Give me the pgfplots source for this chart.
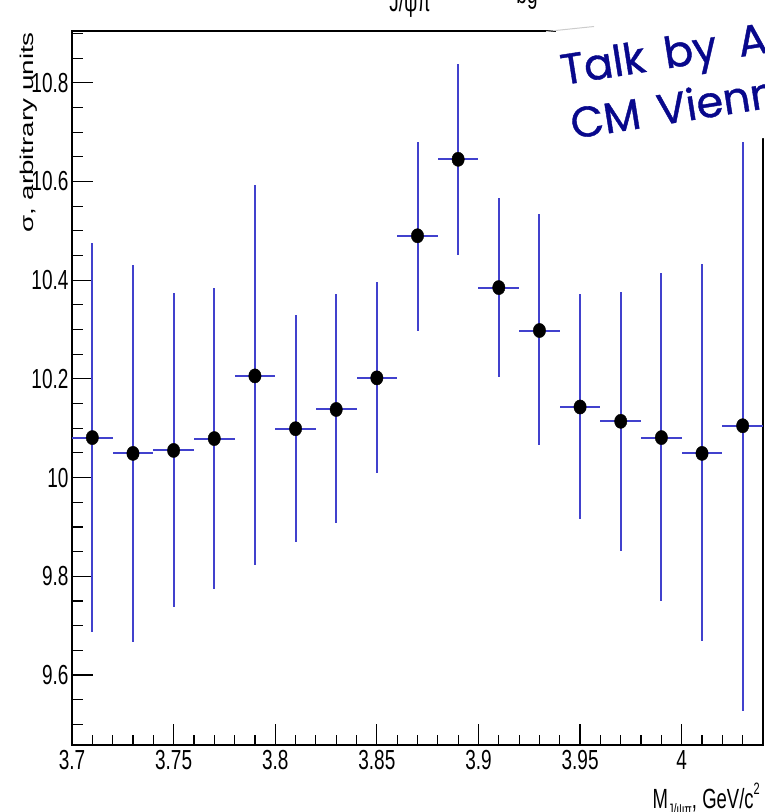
\documentclass[border=0pt]{standalone}
\usepackage{fontspec}
\setmainfont{Liberation Sans}
\newfontfamily\talkfont[FakeBold=0.9]{Poppins}
\usepackage{graphicx}
\usepackage{pgfplots}
\usepackage{pgfplotstable}
\pgfplotsset{compat=1.18}
\definecolor{errblue}{RGB}{65,65,205}
\definecolor{talkblue}{RGB}{8,8,140}
\pgfplotstableread{
x y ep em
3.71 10.081 0.395 0.393
3.73 10.049 0.381 0.382
3.75 10.055 0.319 0.317
3.77 10.079 0.305 0.304
3.79 10.206 0.386 0.384
3.81 10.099 0.230 0.229
3.83 10.138 0.235 0.231
3.85 10.202 0.195 0.192
3.87 10.490 0.190 0.193
3.89 10.645 0.194 0.193
3.91 10.385 0.182 0.182
3.93 10.298 0.237 0.233
3.95 10.143 0.228 0.227
3.97 10.114 0.262 0.263
3.99 10.081 0.334 0.332
4.01 10.049 0.383 0.381
4.03 10.105 0.576 0.578
}\data
\begin{document}
\begin{tikzpicture}
\begin{axis}[
  at={(0pt,0pt)}, anchor=south west,
  scale only axis, width=691pt, height=714pt,
  xmin=3.7, xmax=4.04, ymin=9.458, ymax=10.905,
  xtick={3.7,3.75,3.8,3.85,3.9,3.95,4},
  ytick={9.6,9.8,10,10.2,10.4,10.6,10.8},
  minor xtick={3.71,3.72,3.73,3.74,3.76,3.77,3.78,3.79,3.81,3.82,3.83,3.84,3.86,3.87,3.88,3.89,3.91,3.92,3.93,3.94,3.96,3.97,3.98,3.99,4.01,4.02,4.03},
  minor ytick={9.5,9.55,9.65,9.7,9.75,9.85,9.9,9.95,10.05,10.1,10.15,10.25,10.3,10.35,10.45,10.5,10.55,10.65,10.7,10.75,10.85,10.9},
  tick pos=left, tick align=inside,
  major tick length=21pt, minor tick length=10.5pt,
  every tick/.append style={black, line width=1.2pt},
  axis line style={line width=1.6pt},
  /pgf/number format/assume math mode=true,
  tick label style={font=\fontsize{19}{20}\selectfont, yscale=1.45},
]
\addplot[only marks, mark=*, mark size=6.2pt,
  mark options={fill=black, draw=black, yscale=1.15},
  error bars/.cd, x dir=both, x fixed=0.01, y dir=both, y explicit,
  error mark=none, error bar style={errblue, line width=2pt}]
  table[x=x, y=y, y error plus=ep, y error minus=em]{\data};
\end{axis}
% overlay note
\fill[white] (483pt,723pt) -- (710pt,752pt) -- (710pt,609pt) -- (498pt,585pt) -- cycle;
\draw[gray!40, line width=1pt] (474pt,713.5pt) -- (522pt,718.5pt);
\node[rotate=9, anchor=base west, text=talkblue, font=\talkfont\fontsize{43}{43}\selectfont, inner sep=0pt] at (491pt,660pt) {Talk\hspace{0.45em}by\hspace{0.5em}A};
\node[rotate=9, anchor=base west, text=talkblue, font=\talkfont\fontsize{43}{43}\selectfont, inner sep=0pt] at (501pt,606pt) {CM\hspace{0.4em}Vienna};
% labels
\node[rotate=90, anchor=base east, inner sep=0pt, font=\fontsize{18.5}{20}\selectfont] at (-39pt,713pt) {\scalebox{1.5}[1]{σ, arbitrary units}};
\node[anchor=base east, inner sep=0pt, font=\fontsize{18.5}{20}\selectfont] at (688pt,-63pt) {\scalebox{1}[1.5]{M\raisebox{-0.5ex}{\fontsize{11}{11}\selectfont J/ψπ}, GeV/c\raisebox{0.95ex}{\fontsize{11}{11}\selectfont 2}}};
% cropped title fragments
\node[anchor=base, inner sep=0pt, font=\fontsize{19}{19}\selectfont] at (338pt,733pt) {\scalebox{1}[1.5]{J/ψπ}};
\node[anchor=base, inner sep=0pt, font=\fontsize{19}{19}\selectfont] at (455pt,741pt) {\scalebox{1}[1.5]{bg}};
\pgfresetboundingbox
\useasboundingbox (-72pt,-67pt) rectangle (692pt,745pt);
\end{tikzpicture}
\end{document}
